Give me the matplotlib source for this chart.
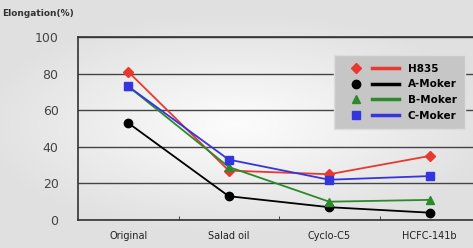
import numpy as np
import matplotlib.pyplot as plt
from matplotlib.lines import Line2D
from matplotlib.legend_handler import HandlerTuple

categories = ["Original", "Salad oil", "Cyclo-C5", "HCFC-141b"]
h835 = [81, 27, 25, 35]
a_moker = [53, 13, 7, 4]
b_moker = [73, 29, 10, 11]
c_moker = [73, 33, 22, 24]

fig = plt.figure(figsize=(4.73, 2.48), dpi=100)

# soft gray background with lighter centre
bg = fig.add_axes([0, 0, 1, 1], zorder=-10)
yy, xx = np.mgrid[-1:1:200j, -1:1:400j]
r = np.clip(np.sqrt((xx / 1.1) ** 2 + (yy / 0.9) ** 2), 0, 1)
shade = 0.99 - 0.11 * r
bg.imshow(np.dstack([shade] * 3), aspect="auto", extent=[0, 1, 0, 1])
bg.axis("off")

ax = fig.add_axes([78 / 473, 28 / 248, 402 / 473, 183 / 248])
ax.patch.set_alpha(0)
x = np.arange(len(categories))

series = [
    ("H835", h835, "#e8392f", "D", 5),
    ("A-Moker", a_moker, "black", "o", 6),
    ("B-Moker", b_moker, "#2c8a2c", "^", 6),
    ("C-Moker", c_moker, "#3535e0", "s", 6),
]
handles, labels = [], []
for name, vals, col, mk, ms in series:
    ax.plot(x, vals, color=col, marker=mk, markersize=ms, lw=1.3)
    # legend: marker on the left, thick line on the right
    handles.append((Line2D([], [], ls="none", marker=mk, color=col, markersize=ms),
                    Line2D([], [], color=col, lw=2.5)))
    labels.append(name)

ax.set_xlim(-0.5, 3.5)
ax.set_ylim(0, 100)
ax.set_yticks([0, 20, 40, 60, 80, 100])
ax.set_xticks(x)
ax.set_xticklabels(categories, fontsize=7, color="#222222")
ax.set_xticks(x[:-1] + 0.5, minor=True)
ax.tick_params(axis="x", which="major", length=0, pad=8)
ax.tick_params(axis="x", which="minor", length=3, direction="in", color="#333333")
ax.tick_params(axis="y", length=0, labelsize=9, labelcolor="#444444", pad=14)
ax.grid(axis="y", color="#444444", lw=1)
for s in ["left", "bottom", "top"]:
    ax.spines[s].set_color("#333333")
    ax.spines[s].set_linewidth(1.2)
ax.spines["right"].set_visible(False)

leg = ax.legend(handles, labels, loc="upper right",
                bbox_to_anchor=(392 / 402, 1 - 13 / 183),
                handler_map={tuple: HandlerTuple(ndivide=2, pad=0.3)},
                fontsize=7.5, frameon=True, handlelength=5.5, handletextpad=0.8,
                borderpad=0.8, labelspacing=0.55, fancybox=False)
leg.get_frame().set_facecolor("#c6c6c6")
leg.get_frame().set_edgecolor("#dddddd")
leg.get_frame().set_alpha(1)
for t in leg.get_texts():
    t.set_fontweight("bold")

fig.text(2 / 473, 1 - 16 / 248, "Elongation(%)", fontsize=6.5, fontweight="bold",
         color="#333333")

fig.savefig("out.png", dpi=100)
